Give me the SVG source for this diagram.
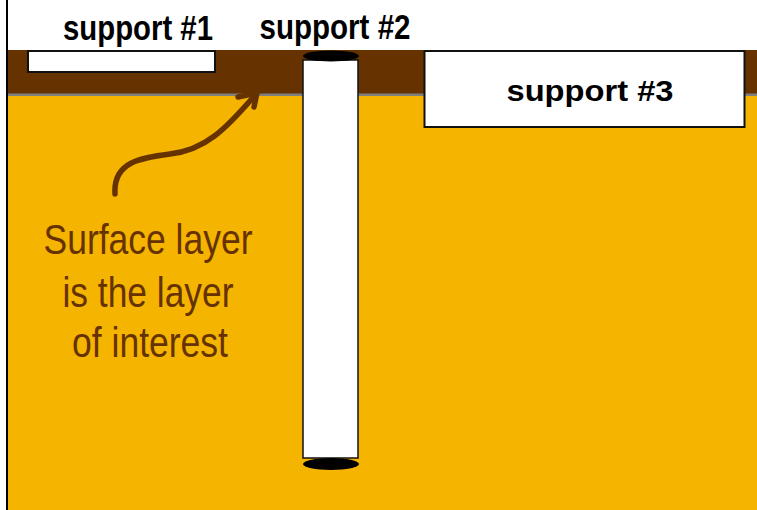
<svg xmlns="http://www.w3.org/2000/svg" width="757" height="510" viewBox="0 0 757 510">
  <style>
    .lbl { font-family: "Liberation Sans", Arial, sans-serif; font-weight: bold; fill: #000; }
    .note { font-family: "Liberation Sans Narrow", "Liberation Sans", Arial, sans-serif; font-size: 43px; fill: #663300; }
    .sup { fill: #fff; stroke: #111; stroke-width: 2; }
    .arrow { fill: none; stroke: #663300; stroke-width: 5.5; stroke-linecap: round; stroke-linejoin: round; }
  </style>
  <rect x="0" y="0" width="757" height="510" fill="#fff"/>
  <!-- ground -->
  <rect x="8" y="50" width="749" height="44" fill="#663300"/>
  <rect x="8" y="93.5" width="749" height="2.5" fill="#808080"/>
  <rect x="8" y="96" width="749" height="414" fill="#F5B400"/>
  <line x1="7" y1="0" x2="7" y2="510" stroke="#000" stroke-width="2"/>

  <g id="support1">
    <rect class="sup" x="28" y="51" width="187" height="21"/>
    <text class="lbl" x="138" y="40" font-size="35" text-anchor="middle" textLength="150" lengthAdjust="spacingAndGlyphs">support #1</text>
  </g>
  <g id="support2">
    <rect x="303" y="60" width="55" height="398" fill="#fff" stroke="#111" stroke-width="1.5"/>
    <ellipse cx="331" cy="56" rx="28" ry="5.5" fill="#000"/>
    <ellipse cx="331" cy="464" rx="28" ry="6" fill="#000"/>
    <text class="lbl" x="335" y="39" font-size="35" text-anchor="middle" textLength="151" lengthAdjust="spacingAndGlyphs">support #2</text>
  </g>
  <g id="support3">
    <rect class="sup" x="424.5" y="51" width="320" height="76"/>
    <text class="lbl" x="590" y="101" font-size="30" text-anchor="middle" textLength="167" lengthAdjust="spacingAndGlyphs">support #3</text>
  </g>
  <g id="note">
    <text class="note" x="148" y="254" text-anchor="middle" textLength="209" lengthAdjust="spacingAndGlyphs">Surface layer</text>
    <text class="note" x="148" y="307" text-anchor="middle" textLength="171" lengthAdjust="spacingAndGlyphs">is the layer</text>
    <text class="note" x="150" y="357" text-anchor="middle" textLength="156" lengthAdjust="spacingAndGlyphs">of interest</text>
  </g>
  <g id="connectors">
    <path class="arrow" d="M115,194 C113,162 140,158 170,154 C205,150 225,130 256,94"/>
    <path class="arrow" d="M238,97 L257,93 L254,107"/>
  </g>
</svg>
